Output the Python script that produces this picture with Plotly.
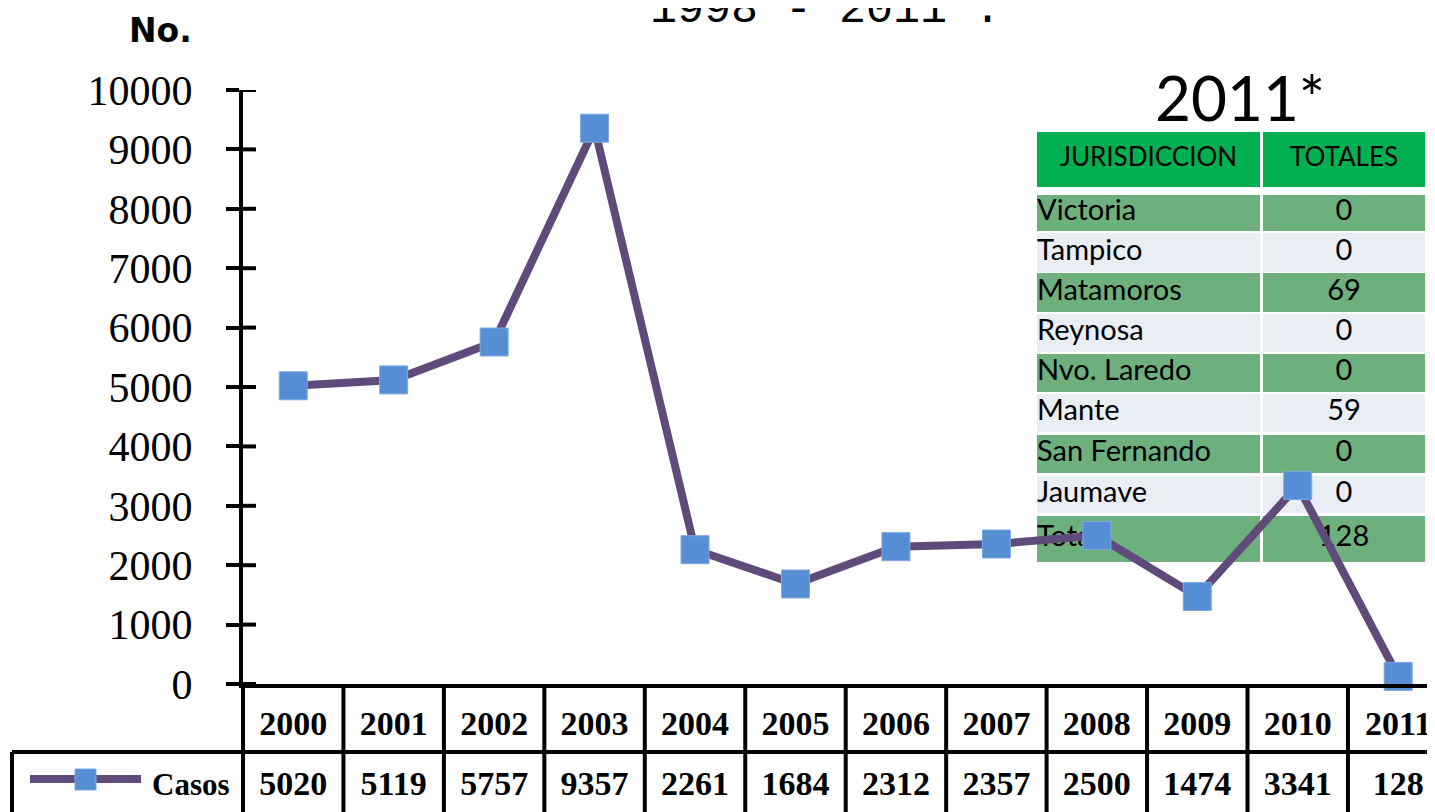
import plotly.graph_objects as go

# ---- data ----
YEARS = ["2000", "2001", "2002", "2003", "2004", "2005", "2006", "2007", "2008", "2009", "2010", "2011"]
CASOS = [5020, 5119, 5757, 9357, 2261, 1684, 2312, 2357, 2500, 1474, 3341, 128]
Y_TICKS = [0, 1000, 2000, 3000, 4000, 5000, 6000, 7000, 8000, 9000, 10000]

JURISDICCIONES = ["Victoria", "Tampico", "Matamoros", "Reynosa", "Nvo. Laredo",
                  "Mante", "San Fernando", "Jaumave", "Total"]
TOTALES = [0, 0, 69, 0, 0, 59, 0, 0, 128]

# ---- layout constants (page pixels) ----
W, H = 1435, 812
OFF = 8          # page body margin: figure starts 8px in
AX_X, AX_TOP, AX_BOT = 243, 90, 684
ROW2_TOP = 752
CELL = 100.45
SERIF = "Liberation Serif"
SANS = "Lato"
LINE_COL = "#604A7B"
MARK_COL = "#558ED5"

def py(p):  # page pixel y -> paper y
    return (H - (p - OFF)) / H

def px(p):
    return (p - OFF) / W

fig = go.Figure()

# ---- inset table (hidden pixel-space subplot, drawn under the line) ----
COL1 = (1037, 1260)
COL2 = (1263, 1425)
HEAD = (132, 187)
ROWS = [(195, 231), (233, 272), (273, 312), (314, 352), (354, 392),
        (394, 432), (435, 473), (476, 513), (516, 562)]
GREEN_HEAD = "#00B050"
GREEN_ROW = "#6EB07D"
LIGHT_ROW = "#E9EDF4"

for c in (COL1, COL2):
    fig.add_shape(type="rect", xref="x", yref="y", x0=c[0], x1=c[1], y0=HEAD[0], y1=HEAD[1],
                  fillcolor=GREEN_HEAD, line=dict(width=0), layer="below")
    for i, r in enumerate(ROWS):
        fig.add_shape(type="rect", xref="x", yref="y", x0=c[0], x1=c[1], y0=r[0], y1=r[1],
                      fillcolor=GREEN_ROW if i % 2 == 0 else LIGHT_ROW,
                      line=dict(width=0), layer="below")

row_mid = [(a + b) / 2 for a, b in ROWS]
fig.add_trace(go.Scatter(
    x=[COL1[0]] * len(JURISDICCIONES), y=row_mid, mode="text", text=JURISDICCIONES,
    textposition="middle right", textfont=dict(family=SANS, size=29, color="black"),
    xaxis="x", yaxis="y", hoverinfo="skip", showlegend=False))
fig.add_trace(go.Scatter(
    x=[(COL2[0] + COL2[1]) / 2] * len(TOTALES), y=row_mid, mode="text",
    text=[str(v) for v in TOTALES],
    textposition="middle center", textfont=dict(family=SANS, size=29, color="black"),
    xaxis="x", yaxis="y", hoverinfo="skip", showlegend=False))
fig.add_trace(go.Scatter(
    x=[(COL1[0] + COL1[1]) / 2, (COL2[0] + COL2[1]) / 2], y=[(HEAD[0] + HEAD[1]) / 2] * 2,
    mode="text", text=["JURISDICCION", "TOTALES"],
    textposition="middle center", textfont=dict(family=SANS, size=26, color="black"),
    xaxis="x", yaxis="y", hoverinfo="skip", showlegend=False))

# ---- main line ----
fig.add_trace(go.Scatter(
    x=YEARS, y=CASOS, mode="lines+markers", name="Casos",
    line=dict(color=LINE_COL, width=8),
    marker=dict(symbol="square", size=28, color=MARK_COL, line=dict(color="#7FA8DF", width=1)),
    xaxis="x2", yaxis="y2", showlegend=False, cliponaxis=False))

# values row of the data table
fig.add_trace(go.Scatter(
    x=YEARS, y=[0.5] * len(YEARS), mode="text", text=[f"<b>{v}</b>" for v in CASOS],
    textposition="middle center", textfont=dict(family=SERIF, size=34, color="black"),
    xaxis="x2", yaxis="y3", hoverinfo="skip", showlegend=False, cliponaxis=False))

# inner half of y ticks (ticks cross the axis)
for v in Y_TICKS:
    fig.add_shape(type="line", xref="paper", yref="y2", x0=px(AX_X), x1=px(AX_X + 13),
                  y0=v, y1=v, line=dict(color="black", width=4))

# ---- data table grid under the axis ----
for i in range(len(YEARS)):
    fig.add_shape(type="line", xref="x2", yref="paper", x0=i + 0.5, x1=i + 0.5,
                  y0=0, y1=py(AX_BOT), line=dict(color="black", width=4))
fig.add_shape(type="line", xref="paper", yref="paper", x0=px(AX_X), x1=px(AX_X),
              y0=0, y1=py(AX_BOT), line=dict(color="black", width=4))
fig.add_shape(type="line", xref="paper", yref="paper", x0=px(12), x1=1,
              y0=py(ROW2_TOP), y1=py(ROW2_TOP), line=dict(color="black", width=4))
fig.add_shape(type="line", xref="paper", yref="paper", x0=px(12), x1=px(12),
              y0=0, y1=py(ROW2_TOP), line=dict(color="black", width=4))

# legend key in the table row
fig.add_shape(type="line", xref="paper", yref="paper", x0=px(30), x1=px(141),
              y0=py(779), y1=py(779), line=dict(color=LINE_COL, width=8))
fig.add_shape(type="rect", xref="paper", yref="paper", x0=px(75), x1=px(96),
              y0=py(769), y1=py(790), fillcolor=MARK_COL, line=dict(color="#7FA8DF", width=1))
fig.add_annotation(x=px(191), y=py(784), xref="paper", yref="paper", text="<b>Casos</b>",
                   xanchor="center", yanchor="middle",
                   showarrow=False, font=dict(family=SERIF, size=31, color="black"))

# ---- texts ----
fig.add_annotation(x=px(160), y=py(30), xref="paper", yref="paper", text="<b>No.</b>",
                   xanchor="center", yanchor="middle",
                   showarrow=False, font=dict(family="DejaVu Sans", size=33, color="black"))
fig.add_annotation(x=px(825), y=py(11), xref="paper", yref="paper", text="1998 - 2011*.",
                   xanchor="center", yanchor="middle",
                   showarrow=False, font=dict(family="Liberation Mono", size=45, color="black"))
fig.add_annotation(x=px(1240), y=py(97), xref="paper", yref="paper", text="2011*",
                   xanchor="center", yanchor="middle",
                   showarrow=False, font=dict(family=SANS, size=62, color="black"))

fig.update_layout(
    width=W, height=H,
    margin=dict(l=0, r=0, t=0, b=0, pad=0, autoexpand=False),
    paper_bgcolor="white",
    plot_bgcolor="rgba(0,0,0,0)",
    showlegend=False,
    xaxis=dict(domain=[0, 1], range=[OFF, W + OFF], visible=False, fixedrange=True,
               automargin=False),
    yaxis=dict(domain=[0, 1], range=[H + OFF, OFF], visible=False, fixedrange=True,
               automargin=False),
    xaxis2=dict(domain=[px(AX_X), 1], anchor="y2", type="category",
                range=[-0.5, (W + OFF - AX_X) / CELL - 0.5], automargin=False,
                showline=True, linecolor="black", linewidth=4, showgrid=False,
                ticks="", ticklabelstandoff=6, tickprefix="<b>", ticksuffix="</b>",
                tickfont=dict(family=SERIF, size=34, color="black")),
    yaxis2=dict(domain=[py(AX_BOT), py(AX_TOP)], anchor="x2", range=[0, 10000],
                tickvals=Y_TICKS, tickformat="d", automargin=False,
                showline=True, linecolor="black", linewidth=4,
                showgrid=False, zeroline=False, ticks="outside", ticklen=13, tickwidth=4,
                tickcolor="black", ticklabelstandoff=25,
                tickfont=dict(family=SERIF, size=42, color="black")),
    yaxis3=dict(domain=[0, py(ROW2_TOP)], anchor="x2", range=[0, 1], visible=False,
                fixedrange=True, automargin=False),
)

fig.write_html("out.html")
